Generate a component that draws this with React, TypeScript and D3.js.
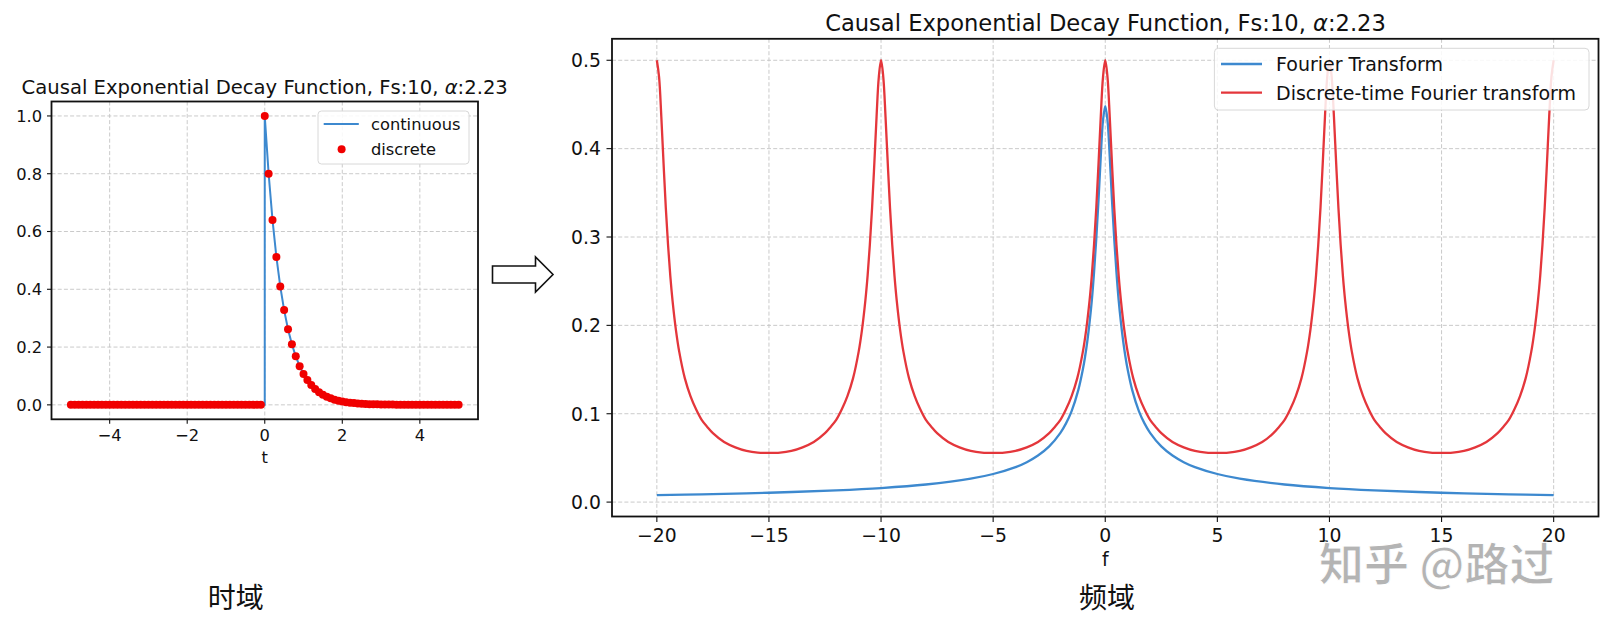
import * as React from 'react';
import * as d3 from 'd3';

const W = 1609;
const H = 628;
const FONT = 'DejaVu Sans';
const CJK = '"Noto Sans CJK SC", sans-serif';

// ---- time domain (left) ----
const sampleStart = -5;
const sampleStep = 0.1;
const discreteValues = [
  0, 0, 0, 0, 0, 0, 0, 0, 0, 0,
  0, 0, 0, 0, 0, 0, 0, 0, 0, 0,
  0, 0, 0, 0, 0, 0, 0, 0, 0, 0,
  0, 0, 0, 0, 0, 0, 0, 0, 0, 0,
  0, 0, 0, 0, 0, 0, 0, 0, 0, 0,
  1.0, 0.8, 0.64, 0.512, 0.41, 0.328, 0.262, 0.21, 0.168, 0.134,
  0.107, 0.086, 0.069, 0.055, 0.044, 0.035, 0.028, 0.023, 0.018, 0.014,
  0.012, 0.009, 0.007, 0.006, 0.005, 0.004, 0.003, 0.002, 0.002, 0.002,
  0.001, 0.001, 0.001, 0.001, 0, 0, 0, 0, 0, 0,
  0, 0, 0, 0, 0, 0, 0, 0, 0, 0,
  0,
];
const continuousT = [-5, 0, 0, 0.1, 0.2, 0.3, 0.4, 0.5, 0.6, 0.7, 0.8, 0.9, 1.0, 1.2, 1.4, 1.6, 1.8, 2.0, 2.4, 2.8, 3.2, 4, 5];
const continuousValues = [0, 0, 1, 0.8, 0.64, 0.512, 0.41, 0.328, 0.262, 0.21, 0.168, 0.134, 0.107, 0.069, 0.044, 0.028, 0.018, 0.012, 0.005, 0.002, 0.001, 0, 0];
const timeTicksX = [-4, -2, 0, 2, 4];
const timeTicksY = [0, 0.2, 0.4, 0.6, 0.8, 1.0];

// ---- frequency domain (right) ----
const ftFreq = [
  -20, -18, -15, -12, -10, -8, -6, -5, -4, -3.5, -3, -2.5, -2, -1.75, -1.5, -1.2, -1, -0.9, -0.8, -0.7, -0.6, -0.5, -0.4, -0.3, -0.2, -0.1,
  0,
  0.1, 0.2, 0.3, 0.4, 0.5, 0.6, 0.7, 0.8, 0.9, 1, 1.2, 1.5, 1.75, 2, 2.5, 3, 3.5, 4, 5, 6, 8, 10, 12, 15, 18, 20,
];
const ftValues = [
  0.008, 0.0088, 0.0106, 0.0133, 0.0159, 0.0199, 0.0265, 0.0318, 0.0396, 0.0452, 0.0527, 0.063, 0.0784, 0.0891, 0.103, 0.127, 0.15, 0.1645, 0.182, 0.203, 0.228, 0.26, 0.298, 0.342, 0.391, 0.432,
  0.448,
  0.432, 0.391, 0.342, 0.298, 0.26, 0.228, 0.203, 0.182, 0.1645, 0.15, 0.127, 0.103, 0.0891, 0.0784, 0.063, 0.0527, 0.0452, 0.0396, 0.0318, 0.0265, 0.0199, 0.0159, 0.0133, 0.0106, 0.0088, 0.008,
];
const dtftFreq = [
  -20, -19.9, -19.8, -19.7, -19.6, -19.5, -19.4, -19.3, -19.15, -19, -18.75, -18.5, -18.25, -18, -17.75, -17.5, -17, -16.5, -16, -15.5,
  -15, -14.5, -14, -13.5, -13, -12.5, -12.25, -12, -11.75, -11.5, -11.25, -11, -10.85, -10.7, -10.6, -10.5, -10.4, -10.3, -10.2, -10.1,
  -10, -9.9, -9.8, -9.7, -9.6, -9.5, -9.4, -9.3, -9.15, -9, -8.75, -8.5, -8.25, -8, -7.75, -7.5, -7, -6.5, -6, -5.5,
  -5, -4.5, -4, -3.5, -3, -2.5, -2.25, -2, -1.75, -1.5, -1.25, -1, -0.85, -0.7, -0.6, -0.5, -0.4, -0.3, -0.2, -0.1,
  0, 0.1, 0.2, 0.3, 0.4, 0.5, 0.6, 0.7, 0.85, 1, 1.25, 1.5, 1.75, 2, 2.25, 2.5, 3, 3.5, 4, 4.5,
  5, 5.5, 6, 6.5, 7, 7.5, 7.75, 8, 8.25, 8.5, 8.75, 9, 9.15, 9.3, 9.4, 9.5, 9.6, 9.7, 9.8, 9.9,
  10, 10.1, 10.2, 10.3, 10.4, 10.5, 10.6, 10.7, 10.85, 11, 11.25, 11.5, 11.75, 12, 12.25, 12.5, 13, 13.5, 14, 14.5,
  15, 15.5, 16, 16.5, 17, 17.5, 17.75, 18, 18.25, 18.5, 18.75, 19, 19.15, 19.3, 19.4, 19.5, 19.6, 19.7, 19.8, 19.9,
  20,
];
const dtftValues = [
  0.5, 0.481, 0.436, 0.383, 0.333, 0.291, 0.256, 0.228, 0.195, 0.17, 0.14, 0.12, 0.105, 0.093, 0.085, 0.078, 0.068, 0.062, 0.058, 0.056,
  0.0556, 0.056, 0.058, 0.062, 0.068, 0.078, 0.085, 0.093, 0.105, 0.12, 0.14, 0.17, 0.195, 0.228, 0.256, 0.291, 0.333, 0.383, 0.436, 0.481,
  0.5, 0.481, 0.436, 0.383, 0.333, 0.291, 0.256, 0.228, 0.195, 0.17, 0.14, 0.12, 0.105, 0.093, 0.085, 0.078, 0.068, 0.062, 0.058, 0.056,
  0.0556, 0.056, 0.058, 0.062, 0.068, 0.078, 0.085, 0.093, 0.105, 0.12, 0.14, 0.17, 0.195, 0.228, 0.256, 0.291, 0.333, 0.383, 0.436, 0.481,
  0.5, 0.481, 0.436, 0.383, 0.333, 0.291, 0.256, 0.228, 0.195, 0.17, 0.14, 0.12, 0.105, 0.093, 0.085, 0.078, 0.068, 0.062, 0.058, 0.056,
  0.0556, 0.056, 0.058, 0.062, 0.068, 0.078, 0.085, 0.093, 0.105, 0.12, 0.14, 0.17, 0.195, 0.228, 0.256, 0.291, 0.333, 0.383, 0.436, 0.481,
  0.5, 0.481, 0.436, 0.383, 0.333, 0.291, 0.256, 0.228, 0.195, 0.17, 0.14, 0.12, 0.105, 0.093, 0.085, 0.078, 0.068, 0.062, 0.058, 0.056,
  0.0556, 0.056, 0.058, 0.062, 0.068, 0.078, 0.085, 0.093, 0.105, 0.12, 0.14, 0.17, 0.195, 0.228, 0.256, 0.291, 0.333, 0.383, 0.436, 0.481,
  0.5,
];
const freqTicksX = [-20, -15, -10, -5, 0, 5, 10, 15, 20];
const freqTicksY = [0, 0.1, 0.2, 0.3, 0.4, 0.5];

const BLUE = '#3d89cf';
const RED = '#e4363b';
const DOT = '#f00000';
const GRID = '#c4c4c4';

const fmtTick = (v: number, digits: number) => {
  const s = digits > 0 ? v.toFixed(digits) : String(v);
  return s.replace('-', '\u2212');
};

type FrameProps = {
  x: d3.ScaleLinear<number, number>;
  y: d3.ScaleLinear<number, number>;
  xTicks: number[];
  yTicks: number[];
  yDigits: number;
  fontSize: number;
  tickLen: number;
  xLabelY: number;
};

// grid lines, drawn under the data
const Grid = ({x, y, xTicks, yTicks}: FrameProps) => {
  const [x0, x1] = x.range();
  const [y1, y0] = y.range();
  return (
    <g stroke={GRID} strokeWidth={0.9} strokeDasharray='4,2.2'>
      {xTicks.map((t) => <line key={'gx' + t} x1={x(t)} x2={x(t)} y1={y0} y2={y1} />)}
      {yTicks.map((t) => <line key={'gy' + t} x1={x0} x2={x1} y1={y(t)} y2={y(t)} />)}
    </g>
  );
};

// spines, tick marks and tick labels
const Frame = ({x, y, xTicks, yTicks, yDigits, fontSize, tickLen, xLabelY}: FrameProps) => {
  const [x0, x1] = x.range();
  const [y1, y0] = y.range();
  return (
    <g fontFamily={FONT} fontSize={fontSize} fill='#111'>
      {xTicks.map((t) => (
        <g key={'tx' + t} transform={`translate(${x(t)},${y1})`}>
          <line stroke='#111' strokeWidth={1.1} y1={0} y2={tickLen} />
          <text textAnchor='middle' y={xLabelY}>{fmtTick(t, 0)}</text>
        </g>
      ))}
      {yTicks.map((t) => (
        <g key={'ty' + t} transform={`translate(${x0},${y(t)})`}>
          <line stroke='#111' strokeWidth={1.1} x1={0} x2={-tickLen} />
          <text textAnchor='end' x={-tickLen - fontSize * 0.3} dy='0.36em'>{fmtTick(t, yDigits)}</text>
        </g>
      ))}
      <rect x={x0} y={y0} width={x1 - x0} height={y1 - y0} fill='none' stroke='#111' strokeWidth={1.8} />
    </g>
  );
};

const Arrow = () => {
  const pts: [number, number][] = [
    [492.5, 266], [535.5, 266], [535.5, 257], [553, 274.5], [535.5, 292], [535.5, 283], [492.5, 283],
  ];
  return <polygon points={pts.map((p) => p.join(',')).join(' ')} fill='#fff' stroke='#111' strokeWidth={1.6} />;
};

export default function App() {
  // left panel
  const tx = d3.scaleLinear().domain([-5.5, 5.5]).range([51.5, 478]);
  const ty = d3.scaleLinear().domain([-0.05, 1.05]).range([419.3, 101.5]);
  const discrete = discreteValues.map((v, i) => ({t: sampleStart + i * sampleStep, v}));
  const continuous = continuousT.map((t, i) => ({t, v: continuousValues[i]}));
  const timeLine = d3.line<{t: number; v: number}>().x((d) => tx(d.t)).y((d) => ty(d.v));

  // right panel
  const fx = d3.scaleLinear().domain([-22, 22]).range([612, 1598.5]);
  const fy = d3.scaleLinear().domain([-0.0163, 0.5243]).range([516.5, 38.8]);
  const freqLine = d3.line<[number, number]>().x((d) => fx(d[0])).y((d) => fy(d[1])).curve(d3.curveCatmullRom.alpha(0.5));
  const ft = ftFreq.map((f, i) => [f, ftValues[i]] as [number, number]);
  const dtft = dtftFreq.map((f, i) => [f, dtftValues[i]] as [number, number]);

  const leftProps = {x: tx, y: ty, xTicks: timeTicksX, yTicks: timeTicksY, yDigits: 1, fontSize: 16.3, tickLen: 4.5, xLabelY: 22.2};
  const rightProps = {x: fx, y: fy, xTicks: freqTicksX, yTicks: freqTicksY, yDigits: 1, fontSize: 18.8, tickLen: 5.5, xLabelY: 25.2};

  return (
    <svg width={W} height={H} style={{position: 'absolute', left: 0, top: 0, background: '#fff'}}>
      <rect width={W} height={H} fill='#fff' />

      {/* time domain */}
      <text x={264.7} y={94} textAnchor='middle' fontFamily={FONT} fontSize={19.6} fill='#111'>
        Causal Exponential Decay Function, Fs:10, <tspan fontStyle='italic'>α</tspan>:2.23
      </text>
      <Grid {...leftProps} />
      <path d={timeLine(continuous) ?? ''} fill='none' stroke={BLUE} strokeWidth={2} />
      {discrete.map((d, i) => <circle key={i} cx={tx(d.t)} cy={ty(d.v)} r={4} fill={DOT} />)}
      <Frame {...leftProps} />
      <text x={tx(0)} y={463} textAnchor='middle' fontFamily={FONT} fontSize={16.3} fill='#111'>t</text>
      <g fontFamily={FONT} fontSize={16.3} fill='#111'>
        <rect x={318} y={111} width={151} height={53} rx={3.5} fill='#fff' fillOpacity={0.85} stroke='#d8d8d8' strokeWidth={1} />
        <line x1={323.7} x2={358.8} y1={124} y2={124} stroke={BLUE} strokeWidth={2} />
        <text x={371} y={124} dy='0.36em'>continuous</text>
        <circle cx={341.6} cy={149.3} r={4} fill={DOT} />
        <text x={371} y={149.3} dy='0.36em'>discrete</text>
      </g>

      <Arrow />

      {/* frequency domain */}
      <text x={1105.5} y={30.5} textAnchor='middle' fontFamily={FONT} fontSize={22.6} fill='#111'>
        Causal Exponential Decay Function, Fs:10, <tspan fontStyle='italic'>α</tspan>:2.23
      </text>
      <Grid {...rightProps} />
      <path d={freqLine(ft) ?? ''} fill='none' stroke={BLUE} strokeWidth={2.3} />
      <path d={freqLine(dtft) ?? ''} fill='none' stroke={RED} strokeWidth={2.3} />
      <Frame {...rightProps} />
      <text x={fx(0)} y={566} textAnchor='middle' fontFamily={FONT} fontSize={18.8} fill='#111'>f</text>
      <g fontFamily={FONT} fontSize={19} fill='#111'>
        <rect x={1214.4} y={48.3} width={374.6} height={61.7} rx={4} fill='#fff' fillOpacity={0.85} stroke='#d8d8d8' strokeWidth={1} />
        <line x1={1221} x2={1262} y1={64} y2={64} stroke={BLUE} strokeWidth={2.3} />
        <text x={1276} y={64} dy='0.36em'>Fourier Transform</text>
        <line x1={1221} x2={1262} y1={92.7} y2={92.7} stroke={RED} strokeWidth={2.3} />
        <text x={1276} y={92.7} dy='0.36em'>Discrete-time Fourier transform</text>
      </g>

      {/* captions */}
      <text x={235.7} y={608} textAnchor='middle' fontFamily={CJK} fontSize={28} fill='#111'>时域</text>
      <text x={1107} y={608} textAnchor='middle' fontFamily={CJK} fontSize={28} fill='#111'>频域</text>

      {/* watermark */}
      <text x={1319} y={581} fontFamily={CJK} fontSize={45} fontWeight={700} fill='#a0a0a0' fillOpacity={0.8} stroke='#fff' strokeWidth={1}>
        知乎 @路过
      </text>
    </svg>
  );
}
